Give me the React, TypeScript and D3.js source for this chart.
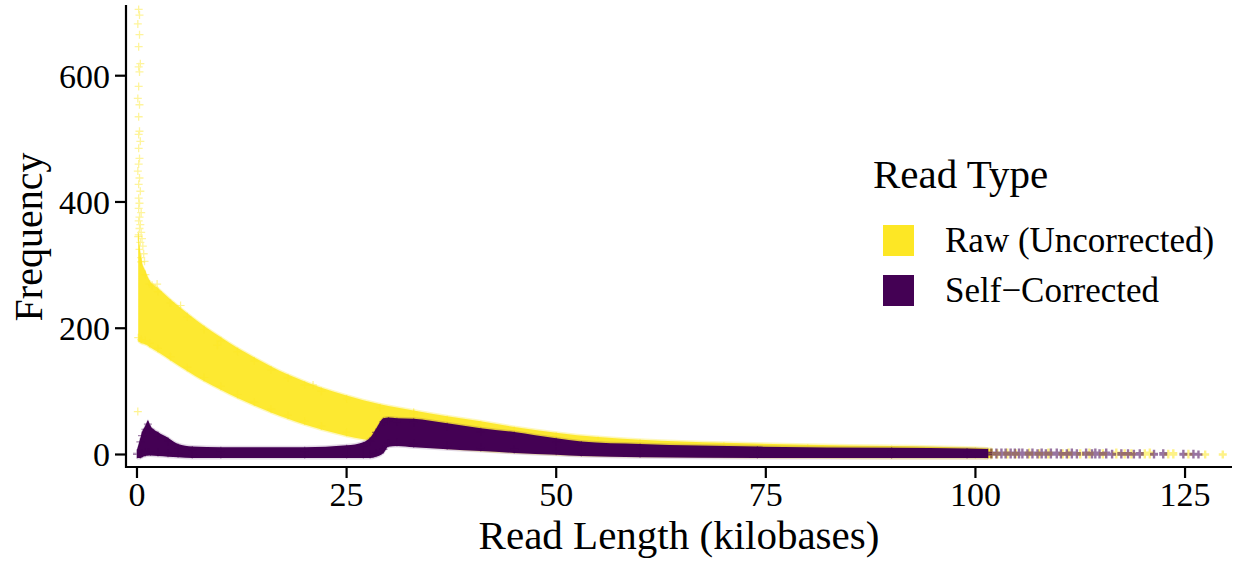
import React from "react";
import * as d3 from "d3";

const WIDTH = 1236;
const HEIGHT = 563;

const xTicks = [0, 25, 50, 75, 100, 125];
const yTicks = [0, 200, 400, 600];

const seriesNames = ["Raw (Uncorrected)", "Self\u2212Corrected"];
const seriesColors = ["#FDE725", "#440154"];

// Dense part of each scatter: [read length kb, lowest frequency, highest frequency]
const rawBand: [number, number, number][] = [
  [0.15, 185, 345],
  [0.5, 182, 305],
  [1.0, 180, 285],
  [1.5, 176, 270],
  [2.5, 168, 258],
  [4, 155, 240],
  [6, 138, 218],
  [8, 122, 198],
  [10, 108, 180],
  [12, 95, 163],
  [14, 83, 148],
  [16, 72, 134],
  [18, 62, 121],
  [20, 53, 110],
  [22, 45, 100],
  [25, 35, 88],
  [29, 26, 74],
  [33, 20, 64],
  [37, 16, 55],
  [41, 12, 47],
  [45, 9, 38],
  [50, 6, 29],
  [55, 4, 22],
  [60, 3, 18],
  [70, 2, 13],
  [80, 1, 10],
  [90, 0, 8],
  [100, 0, 5],
  [102, 0, 3],
];

const correctedBand: [number, number, number][] = [
  [0.0, 0, 2],
  [0.4, 0, 20],
  [0.6, 1, 30],
  [1.0, 3, 40],
  [1.3, 4, 48],
  [1.6, 4, 40],
  [2.5, 3, 30],
  [3.7, 2, 21],
  [4.9, 1, 11],
  [6.6, 0, 7],
  [10, 0, 6],
  [20, 0, 6],
  [25, 0, 9],
  [27, 0, 14],
  [27.8, 0, 21],
  [28.5, 2, 35],
  [29.4, 8, 52],
  [30, 18, 53],
  [31, 19, 52],
  [33, 17, 51],
  [37, 14, 44],
  [41, 11, 36],
  [45, 8, 30],
  [50, 5, 20],
  [53, 3, 15],
  [60, 1, 11],
  [74, 0, 7],
  [90, 0, 5],
  [99, 0, 4],
  [101.5, 0, 3],
];

// Sparse raw reads at the shortest lengths: [kb, frequency]
const rawSpike: [number, number][] = [
  [0.2, 705], [0.3, 696], [0.1, 682], [0.3, 665], [0.2, 646], [0.4, 619],
  [0.2, 614], [0.3, 606], [0.2, 583], [0.1, 564], [0.3, 554], [0.2, 535],
  [0.3, 512], [0.2, 507], [0.4, 496], [0.2, 485], [0.3, 469], [0.2, 460],
  [0.1, 449], [0.3, 438], [0.2, 428], [0.4, 417], [0.2, 406], [0.3, 398],
  [0.2, 390], [0.5, 383], [0.3, 376], [0.2, 370], [0.4, 364], [0.3, 358],
  [0.5, 352], [0.2, 348], [0.6, 342], [0.4, 336], [0.7, 330], [0.3, 325],
  [0.8, 318], [0.5, 312], [0.9, 306],
];

// Isolated raw points away from the main cloud
const rawOutliers: [number, number][] = [
  [2.4, 270], [1.8, 268], [9.6, 173], [0.1, 68], [5.2, 236], [21, 110], [33, 67],
];

// Long-read tail, where reads thin out: [kb, lowest frequency, highest frequency]
const rawTail: [number, number, number][] = [
  [101.2, 0, 3], [102.6, 0, 2], [103.8, 0, 3], [104.8, 0, 2], [106.4, 0, 3],
  [107.6, 0, 2], [108.7, 0, 3], [110.4, 0, 2], [111.1, 0, 3], [112.5, 0, 2],
  [113.6, 0, 3], [115.2, 0, 2], [116.8, 0, 3], [117.8, 0, 2], [118.6, 0, 2],
  [120.2, 0, 2], [120.8, 0, 3], [123.0, 0, 1], [123.6, 0, 2], [125.4, 0, 1],
  [127.4, 0, 0], [129.5, 0, 0],
];

const correctedTail: [number, number, number][] = [
  [101.9, 0, 3], [102.5, 0, 3], [103.1, 0, 3], [103.6, 0, 3], [104.2, 0, 3],
  [104.7, 0, 3], [105.2, 0, 3], [105.6, 0, 3], [106.2, 0, 2], [106.8, 0, 3],
  [107.4, 0, 2], [107.9, 0, 3], [108.4, 0, 2], [109.0, 0, 3], [109.7, 0, 3],
  [110.2, 0, 2], [110.9, 0, 2], [111.5, 0, 3], [112.1, 0, 2], [113.2, 0, 3],
  [113.9, 0, 2], [114.3, 0, 3], [114.8, 0, 2], [115.6, 0, 3], [116.3, 0, 1],
  [117.4, 0, 2], [118.2, 0, 2], [118.9, 0, 1], [119.6, 0, 2], [121.3, 0, 1],
  [122.4, 0, 2], [124.8, 0, 1], [126.0, 0, 1], [126.6, 0, 0],
];

const FONT = "'Liberation Serif', 'Times New Roman', serif";

export default function App() {
  const x = d3.scaleLinear().domain([-1.31, 130.6]).range([126, 1232]);
  const y = d3.scaleLinear().domain([-19.8, 712]).range([467, 5]);

  const half = 4; // half width of a "+" marker

  const bandArea = (pad: number) =>
    d3
      .area<[number, number, number]>()
      .x((d) => x(d[0]))
      .y0((d) => y(d[1]) + pad)
      .y1((d) => y(d[2]) - pad)
      .curve(d3.curveMonotoneX);

  const plus = (cx: number, cy: number) =>
    `M${cx - half},${cy}h${half * 2}M${cx},${cy - half}v${half * 2}`;

  const markers = (pts: [number, number][]) =>
    pts.map((p) => plus(x(p[0]), y(p[1]))).join("");

  const edgeMarkers = (band: [number, number, number][]) =>
    band
      .map((d) => plus(x(d[0]), y(d[2])) + plus(x(d[0]), y(d[1])))
      .join("");

  // each tail column: crosses at both ends joined by their vertical arms
  const tailMarks = (pts: [number, number, number][]) =>
    pts
      .map((d) => {
        const cx = x(d[0]);
        const top = y(d[2]);
        const bottom = y(d[1]);
        return `M${cx - half},${top}h${half * 2}M${cx - half},${bottom}h${half * 2}M${cx},${top - half}V${bottom + half}`;
      })
      .join("");

  const bands = [rawBand, correctedBand];
  const tails = [rawTail, correctedTail];

  return (
    <svg
      width={WIDTH}
      height={HEIGHT}
      style={{ position: "absolute", left: 0, top: 0, background: "#fff" }}
      fontFamily={FONT}
    >
      <g>
        {bands.map((band, i) => (
          <g key={seriesNames[i]}>
            {i === 0 && (
              <path
                d={markers(rawSpike)}
                stroke={seriesColors[0]}
                strokeWidth={1.3}
                strokeOpacity={0.45}
                fill="none"
              />
            )}
            <path d={bandArea(half + 1)(band) ?? ""} fill={seriesColors[i]} opacity={i === 0 ? 0.3 : 0.15} />
            <path d={bandArea(half - 0.5)(band) ?? ""} fill={seriesColors[i]} opacity={i === 0 ? 0.92 : 1} />
            <path
              d={edgeMarkers(band)}
              stroke={seriesColors[i]}
              strokeWidth={1.2}
              strokeOpacity={0.5}
              fill="none"
            />
            <path
              d={tailMarks(tails[i])}
              stroke={seriesColors[i]}
              strokeWidth={2.4}
              strokeOpacity={0.55}
              fill="none"
            />
            {i === 0 && (
              <path
                d={markers(rawOutliers)}
                stroke={seriesColors[0]}
                strokeWidth={1.2}
                strokeOpacity={0.5}
                fill="none"
              />
            )}
          </g>
        ))}
      </g>

      {/* axes */}
      <line x1={126} x2={126} y1={5} y2={468} stroke="#000" strokeWidth={2.2} />
      <line x1={125} x2={1232} y1={467} y2={467} stroke="#000" strokeWidth={2.2} />
      {yTicks.map((t) => (
        <g key={`y${t}`}>
          <line x1={115} x2={126} y1={y(t)} y2={y(t)} stroke="#000" strokeWidth={2.2} />
          <text x={110} y={y(t)} dy="0.35em" textAnchor="end" fontSize={34} fill="#000">
            {t}
          </text>
        </g>
      ))}
      {xTicks.map((t) => (
        <g key={`x${t}`}>
          <line x1={x(t)} x2={x(t)} y1={467} y2={478} stroke="#000" strokeWidth={2.2} />
          <text x={x(t)} y={506} textAnchor="middle" fontSize={34} fill="#000">
            {t}
          </text>
        </g>
      ))}
      <text x={679} y={549} textAnchor="middle" fontSize={41} fill="#000">
        Read Length (kilobases)
      </text>
      <text
        transform="translate(42,237) rotate(-90)"
        textAnchor="middle"
        fontSize={40}
        fill="#000"
      >
        Frequency
      </text>

      {/* legend */}
      <text x={873} y={188} fontSize={41} fill="#000">
        Read Type
      </text>
      {seriesNames.map((name, i) => (
        <g key={name}>
          <rect x={883} y={225 + i * 50} width={31} height={31} fill={seriesColors[i]} />
          <text x={945} y={252 + i * 50} fontSize={35} fill="#000">
            {name}
          </text>
        </g>
      ))}
    </svg>
  );
}
